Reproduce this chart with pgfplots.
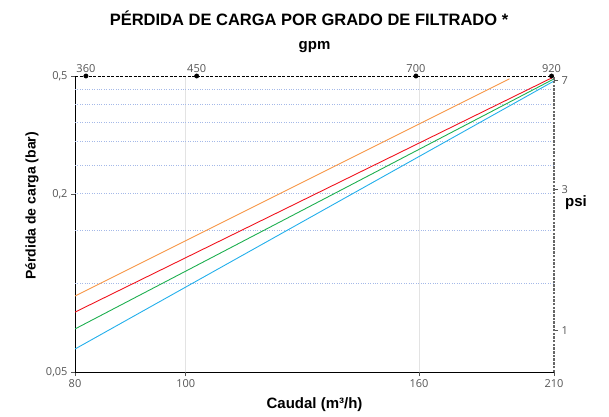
\documentclass[border=0pt]{standalone}
\usepackage{pgfplots}
\pgfplotsset{compat=1.18}
\usepackage{fontspec}
\setmainfont{Open Sans}
\setsansfont{Liberation Sans}

\definecolor{tickgray}{RGB}{85,85,85}
\definecolor{gridblue}{RGB}{165,185,232}
\definecolor{cOrange}{RGB}{247,150,70}
\definecolor{cRed}{RGB}{240,20,30}
\definecolor{cGreen}{RGB}{30,175,80}
\definecolor{cBlue}{RGB}{35,175,235}

\pgfplotsset{
  base/.style={
    at={(75pt,44pt)}, anchor=south west,
    scale only axis, width=479pt, height=296pt,
    ticklabel style={font=\fontsize{11}{13}\selectfont, text=tickgray},
    label style={font=\sffamily\bfseries\fontsize{15}{18}\selectfont},
  },
}

\begin{document}
\begin{tikzpicture}
\path[use as bounding box] (0,0) rectangle (609pt,416pt);
\node[font=\sffamily\bfseries\fontsize{16.5}{19}\selectfont] at (309pt,398pt)
  {PÉRDIDA DE CARGA POR GRADO DE FILTRADO *};

% ejes principales: caudal (m3/h) y bar
\begin{axis}[base,
  xmode=log, ymode=log,
  xmin=80, xmax=210, ymin=0.05, ymax=0.5,
  axis x line*=bottom, axis y line*=left,
  axis line style={black, line width=1pt, -},
  xtick={80,100,160,210}, xticklabels={80,100,160,210},
  ytick={0.05,0.2,0.5}, yticklabels={{0,05},{0,2},{0,5}},
  extra x ticks={100,160}, extra x tick labels={},
  extra x tick style={grid=major, major grid style={gray!22, line width=0.8pt}},
  extra y ticks={0.1,0.15,0.2,0.25,0.3,0.35,0.4,0.45}, extra y tick labels={},
  extra y tick style={grid=major, major grid style={gridblue, dotted, line width=0.7pt}, major tick length=0pt},
  tick style={tickgray, line width=0.6pt}, major tick length=4pt, tick align=outside,
  minor tick num=0,
  xlabel={Caudal (m³/h)}, ylabel={Pérdida de carga (bar)},
  xlabel style={at={(axis description cs:0.5,-0.1115)}, anchor=center},
  ylabel style={at={(axis description cs:-0.0898,0.561)}, anchor=center,
    font=\sffamily\bfseries\fontsize{14}{17}\selectfont},
]
\addplot[cOrange, line width=0.9pt] coordinates {(80,0.0903) (192,0.489)};
\addplot[cRed, line width=0.9pt] coordinates {(80,0.0797) (210,0.497)};
\addplot[cGreen, line width=0.9pt] coordinates {(80,0.0699) (210,0.489)};
\addplot[cBlue, line width=0.9pt] coordinates {(80,0.0598) (210,0.481)};
\end{axis}

% eje superior: gpm
\begin{axis}[base,
  xmode=log, xmin=352.23, xmax=924.60, ymin=0, ymax=1,
  axis x line*=top, axis y line=none,
  axis line style={black, dash pattern=on 3pt off 1.5pt, line width=0.9pt, -},
  xtick={360,450,700,920}, xticklabels={360,450,700,920},
  major tick length=0pt, minor tick num=0,
  xlabel={gpm},
  xlabel style={at={(axis description cs:0.5,1.098)}, anchor=center},
  clip=false,
]
\addplot[only marks, mark=*, mark size=2.2pt, black] coordinates {(360,1) (450,1) (700,1) (920,1)};
\end{axis}

% eje derecho: psi
\begin{axis}[base,
  ymode=log, ymin=0.725190, ymax=7.25190, xmin=0, xmax=1,
  axis y line*=right, axis x line=none,
  axis line style={gray!80!black, dash pattern=on 2.5pt off 1.2pt, line width=1.1pt, -},
  ytick={1,3,7}, yticklabels={1,3,7},
  tick style={tickgray, line width=1pt}, major tick length=4pt, tick align=outside,
  minor tick num=0,
  ylabel={psi},
  ylabel style={at={(axis description cs:1.046,0.571)}, anchor=center, rotate=-90},
]
\end{axis}
\end{tikzpicture}
\end{document}
